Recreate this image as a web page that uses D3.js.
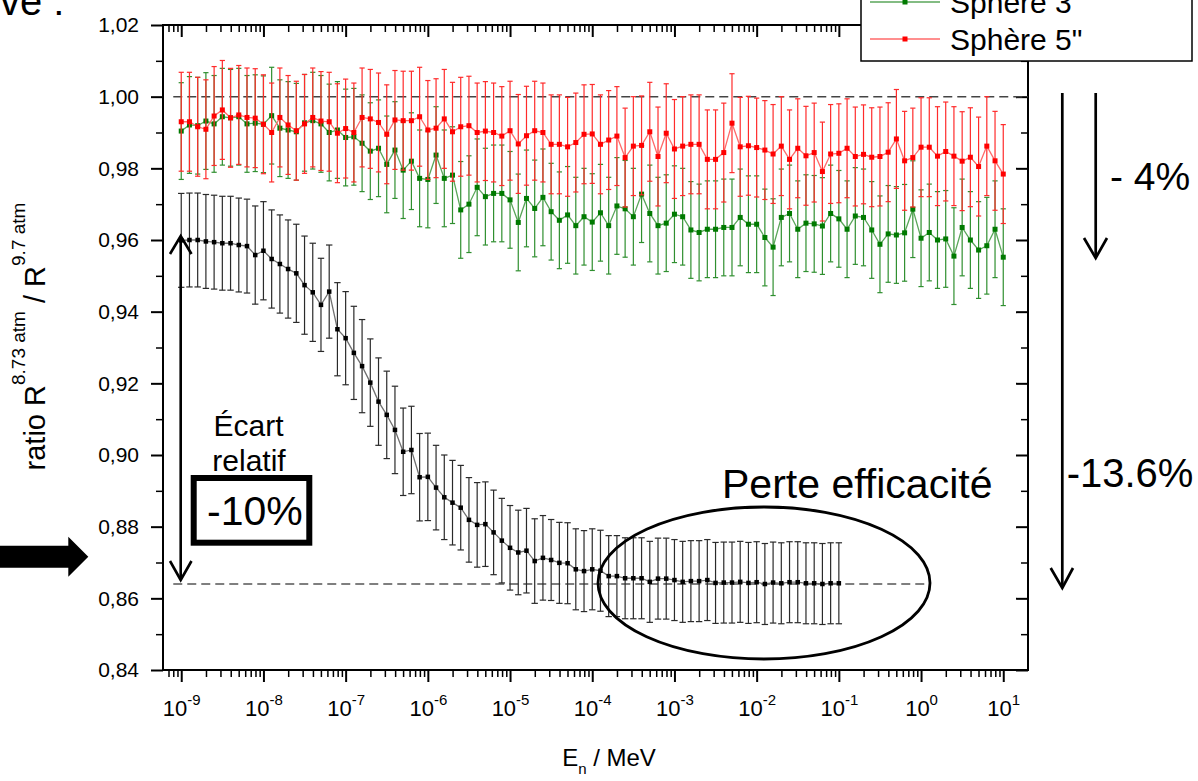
<!DOCTYPE html>
<html>
<head>
<meta charset="utf-8">
<script src="https://cdn.jsdelivr.net/npm/d3@7"></script>
<style>
  body { margin: 0; background: #fff; }
  svg { font-family: "Liberation Sans", Arial, sans-serif; }
</style>
</head>
<body>
<div id="chart"></div>
<script>
// energy grid: 10 points per decade starting at 1e-9 MeV
const blackEnergy = d3.range(81).map(i => Math.pow(10, -9 + i / 10));   // up to 1e-1
const sphereEnergy = d3.range(101).map(i => Math.pow(10, -9 + i / 10));  // up to 1e1

// ratio values
const blackRatio = [
  0.9599, 0.9600, 0.9600, 0.9596, 0.9594, 0.9591, 0.9591, 0.9586, 0.9583, 0.9558,
  0.9570, 0.9547, 0.9533, 0.9519, 0.9507, 0.9474, 0.9454, 0.9419, 0.9456, 0.9351,
  0.9326, 0.9285, 0.9248, 0.9202, 0.9149, 0.9112, 0.9070, 0.9009, 0.9014, 0.8938,
  0.8939, 0.8909, 0.8882, 0.8867, 0.8853, 0.8819, 0.8805, 0.8807, 0.8784, 0.8761,
  0.8741, 0.8728, 0.8733, 0.8704, 0.8713, 0.8707, 0.8699, 0.8698, 0.8681, 0.8676,
  0.8681, 0.8677, 0.8662, 0.8662, 0.8656, 0.8656, 0.8656, 0.8646, 0.8655, 0.8655,
  0.8651, 0.8646, 0.8648, 0.8648, 0.8651, 0.8643, 0.8644, 0.8644, 0.8646, 0.8643,
  0.8645, 0.8640, 0.8644, 0.8642, 0.8645, 0.8645, 0.8642, 0.8642, 0.8640, 0.8642,
  0.8642
];
const blackErr = [
  0.0131, 0.0131, 0.0131, 0.0131, 0.0131, 0.0131, 0.0131, 0.0131, 0.0131, 0.0137,
  0.0137, 0.0137, 0.0137, 0.0137, 0.0137, 0.0137, 0.0137, 0.0130, 0.0130, 0.0130,
  0.0130, 0.0130, 0.0130, 0.0122, 0.0122, 0.0122, 0.0122, 0.0122, 0.0122, 0.0122,
  0.0122, 0.0118, 0.0118, 0.0118, 0.0118, 0.0118, 0.0118, 0.0118, 0.0118, 0.0118,
  0.0118, 0.0118, 0.0118, 0.0118, 0.0118, 0.0113, 0.0113, 0.0113, 0.0113, 0.0113,
  0.0113, 0.0113, 0.0113, 0.0113, 0.0113, 0.0113, 0.0113, 0.0113, 0.0113, 0.0113,
  0.0113, 0.0113, 0.0113, 0.0113, 0.0113, 0.0113, 0.0113, 0.0113, 0.0113, 0.0113,
  0.0113, 0.0113, 0.0113, 0.0113, 0.0113, 0.0113, 0.0113, 0.0113, 0.0113, 0.0113,
  0.0113
];
const greenRatio = [
  0.9904, 0.9921, 0.9919, 0.9932, 0.9924, 0.9944, 0.9941, 0.9944, 0.9924, 0.9926,
  0.9923, 0.9947, 0.9912, 0.9907, 0.9902, 0.9927, 0.9933, 0.9924, 0.9900, 0.9907,
  0.9886, 0.9888, 0.9870, 0.9848, 0.9856, 0.9811, 0.9851, 0.9795, 0.9820, 0.9772,
  0.9769, 0.9837, 0.9772, 0.9781, 0.9684, 0.9700, 0.9747, 0.9721, 0.9730, 0.9730,
  0.9712, 0.9649, 0.9716, 0.9688, 0.9719, 0.9679, 0.9655, 0.9670, 0.9640, 0.9665,
  0.9650, 0.9676, 0.9640, 0.9695, 0.9687, 0.9665, 0.9728, 0.9674, 0.9640, 0.9647,
  0.9672, 0.9665, 0.9628, 0.9621, 0.9630, 0.9630, 0.9635, 0.9635, 0.9663, 0.9644,
  0.9644, 0.9607, 0.9580, 0.9663, 0.9674, 0.9630, 0.9647, 0.9645, 0.9639, 0.9674,
  0.9659, 0.9630, 0.9667, 0.9663, 0.9628, 0.9588, 0.9617, 0.9614, 0.9620, 0.9686,
  0.9605, 0.9621, 0.9600, 0.9603, 0.9555, 0.9635, 0.9600, 0.9572, 0.9584, 0.9630,
  0.9552
];
const greenErr = 0.0135;
const redRatio = [
  0.9930, 0.9930, 0.9916, 0.9909, 0.9946, 0.9963, 0.9941, 0.9949, 0.9942, 0.9940,
  0.9923, 0.9900, 0.9942, 0.9921, 0.9905, 0.9924, 0.9942, 0.9932, 0.9930, 0.9898,
  0.9911, 0.9900, 0.9942, 0.9938, 0.9928, 0.9895, 0.9935, 0.9933, 0.9933, 0.9944,
  0.9907, 0.9912, 0.9938, 0.9902, 0.9916, 0.9919, 0.9900, 0.9904, 0.9900, 0.9890,
  0.9905, 0.9868, 0.9891, 0.9905, 0.9900, 0.9867, 0.9867, 0.9860, 0.9872, 0.9895,
  0.9896, 0.9867, 0.9879, 0.9890, 0.9830, 0.9862, 0.9864, 0.9902, 0.9833, 0.9898,
  0.9854, 0.9862, 0.9867, 0.9867, 0.9825, 0.9825, 0.9844, 0.9926, 0.9860, 0.9863,
  0.9858, 0.9851, 0.9840, 0.9862, 0.9825, 0.9856, 0.9835, 0.9844, 0.9791, 0.9840,
  0.9842, 0.9856, 0.9833, 0.9839, 0.9831, 0.9833, 0.9845, 0.9882, 0.9821, 0.9830,
  0.9859, 0.9859, 0.9834, 0.9847, 0.9834, 0.9820, 0.9831, 0.9805, 0.9862, 0.9821,
  0.9784
];
const redErr = 0.0138;

const xMajor = [1e-9, 1e-8, 1e-7, 1e-6, 1e-5, 1e-4, 1e-3, 1e-2, 1e-1, 1e0, 1e1];
const yMajor = [0.84, 0.86, 0.88, 0.90, 0.92, 0.94, 0.96, 0.98, 1.00, 1.02];
const yMinor = [0.85, 0.87, 0.89, 0.91, 0.93, 0.95, 0.97, 0.99, 1.01];

const margin = { top: 25, right: 170, bottom: 111, left: 163 };
const width = 1198 - margin.left - margin.right;
const height = 781 - margin.top - margin.bottom;

const svg = d3.select('#chart')
  .append('svg')
  .attr('width', 1198)
  .attr('height', 781);

const g = svg.append('g')
  .attr('transform', `translate(${margin.left},${margin.top})`);

// scales
const x = d3.scaleLog().domain([6e-10, 20]).range([0, width]);
const y = d3.scaleLinear().domain([0.84, 1.02]).range([height, 0]);

// minor log ticks
const xMinor = [];
for (let e = -10; e <= 1; e++) {
  for (let m = 2; m <= 9; m++) {
    const v = m * Math.pow(10, e);
    if (v > 6.5e-10 && v < 19) xMinor.push(v);
  }
}

// axes
function styleAxis(sel, w) {
  sel.select('.domain').remove();
  sel.selectAll('line').attr('stroke', '#000').attr('stroke-width', w);
}
const fmtY = d => d3.format('.2f')(d).replace('.', ',');

g.append('g').attr('transform', `translate(0,${height})`)
  .call(d3.axisBottom(x).tickValues(xMinor).tickSize(7).tickFormat(''))
  .call(s => styleAxis(s, 1.5));
const xAx = g.append('g').attr('transform', `translate(0,${height})`)
  .call(d3.axisBottom(x).tickValues(xMajor).tickSize(12).tickPadding(22).tickFormat(''))
  .call(s => styleAxis(s, 2));
xAx.selectAll('.tick text').each(function (d) {
  const t = d3.select(this)
    .attr('fill', '#000')
    .attr('font-size', 22)
    .attr('font-family', '"Liberation Sans", Arial, sans-serif')
    .attr('dy', 0)
    .attr('y', 46);
  t.append('tspan').text('10');
  t.append('tspan').attr('font-size', 15).attr('dy', -11).text(Math.round(Math.log10(d)));
});

g.append('g').call(d3.axisTop(x).tickValues(xMinor).tickSize(-7).tickFormat(''))
  .call(s => styleAxis(s, 1.5));
g.append('g').call(d3.axisTop(x).tickValues(xMajor).tickSize(-12).tickFormat(''))
  .call(s => styleAxis(s, 2));

g.append('g').call(d3.axisLeft(y).tickValues(yMinor).tickSize(7).tickFormat(''))
  .call(s => styleAxis(s, 1.5));
g.append('g').call(d3.axisLeft(y).tickValues(yMajor).tickSize(12).tickPadding(12).tickFormat(fmtY))
  .call(s => styleAxis(s, 2))
  .call(s => s.selectAll('text')
    .attr('fill', '#000')
    .attr('font-size', 21)
    .attr('font-family', '"Liberation Sans", Arial, sans-serif'));

g.append('g').attr('transform', `translate(${width},0)`)
  .call(d3.axisRight(y).tickValues(yMinor).tickSize(-7).tickFormat(''))
  .call(s => styleAxis(s, 1.5));
g.append('g').attr('transform', `translate(${width},0)`)
  .call(d3.axisRight(y).tickValues(yMajor).tickSize(-12).tickFormat(''))
  .call(s => styleAxis(s, 2));

// frame
g.append('rect')
  .attr('width', width).attr('height', height)
  .attr('fill', 'none').attr('stroke', '#000').attr('stroke-width', 2);

// reference dashed lines
g.append('line')
  .attr('x1', x(8e-10)).attr('x2', width)
  .attr('y1', y(1.0)).attr('y2', y(1.0))
  .attr('stroke', '#444').attr('stroke-width', 1.5).attr('stroke-dasharray', '9,5');
g.append('line')
  .attr('x1', x(8e-10)).attr('x2', x(1.25))
  .attr('y1', y(0.864)).attr('y2', y(0.864))
  .attr('stroke', '#555').attr('stroke-width', 1.5).attr('stroke-dasharray', '9,5');

// series
function drawSeries(energy, ratio, err, st) {
  const pts = ratio.map((v, i) => ({ e: energy[i], v: v, err: Array.isArray(err) ? err[i] : err }));
  const s = g.append('g');
  s.append('path').datum(pts)
    .attr('d', d3.line().x(d => x(d.e)).y(d => y(d.v)))
    .attr('fill', 'none').attr('stroke', st.line).attr('stroke-width', 1.3);
  const bars = s.append('g').attr('stroke', st.bar).attr('stroke-width', st.barW);
  bars.selectAll('.eb').data(pts).join('line')
    .attr('x1', d => x(d.e)).attr('x2', d => x(d.e))
    .attr('y1', d => y(d.v + d.err)).attr('y2', d => y(d.v - d.err));
  bars.selectAll('.capT').data(pts).join('line')
    .attr('x1', d => x(d.e) - st.cap).attr('x2', d => x(d.e) + st.cap)
    .attr('y1', d => y(d.v + d.err)).attr('y2', d => y(d.v + d.err));
  bars.selectAll('.capB').data(pts).join('line')
    .attr('x1', d => x(d.e) - st.cap).attr('x2', d => x(d.e) + st.cap)
    .attr('y1', d => y(d.v - d.err)).attr('y2', d => y(d.v - d.err));
  s.selectAll('rect').data(pts).join('rect')
    .attr('x', d => x(d.e) - st.sq / 2).attr('y', d => y(d.v) - st.sq / 2)
    .attr('width', st.sq).attr('height', st.sq)
    .attr('fill', st.mark);
}

drawSeries(sphereEnergy, greenRatio, greenErr,
  { line: '#5aa65a', bar: '#2f8f2f', barW: 1.2, cap: 2.6, sq: 5, mark: '#007a00' });
drawSeries(sphereEnergy, redRatio, redErr,
  { line: '#ff6a6a', bar: '#ff2b2b', barW: 1.2, cap: 2.6, sq: 5, mark: '#ff0000' });
drawSeries(blackEnergy, blackRatio, blackErr,
  { line: '#707070', bar: '#2a2a2a', barW: 1.2, cap: 3.2, sq: 4.5, mark: '#000' });

// annotations
const ann = svg.append('g').attr('fill', 'none').attr('stroke', '#000');

// ellipse "Perte efficacité"
ann.append('ellipse')
  .attr('cx', 764).attr('cy', 583).attr('rx', 166).attr('ry', 76)
  .attr('stroke-width', 2.8);

// double arrow on left
ann.append('line').attr('x1', 180.7).attr('x2', 180.7).attr('y1', 237).attr('y2', 579).attr('stroke-width', 2.6);
ann.append('polyline').attr('points', '170,254 180.7,236 191.5,254').attr('stroke-width', 2.6);
ann.append('polyline').attr('points', '170,561 180.7,580 191.5,561').attr('stroke-width', 2.6);

// right arrows
ann.append('line').attr('x1', 1062.3).attr('x2', 1062.3).attr('y1', 93).attr('y2', 587).attr('stroke-width', 2.7);
ann.append('polyline').attr('points', '1050.7,568 1062.3,588 1073,568').attr('stroke-width', 2.7);
ann.append('line').attr('x1', 1095.7).attr('x2', 1095.7).attr('y1', 93).attr('y2', 257).attr('stroke-width', 2.7);
ann.append('polyline').attr('points', '1084,238 1095.7,258 1107,238').attr('stroke-width', 2.7);

// box around -10%
ann.append('rect')
  .attr('x', 193.7).attr('y', 478).attr('width', 115.6).attr('height', 64.7)
  .attr('fill', '#fff').attr('stroke-width', 6);

// big filled arrow at left edge
svg.append('polygon')
  .attr('points', '0,545.7 68.3,545.7 68.3,536.7 88.3,556.7 68.3,576.7 68.3,567.7 0,567.7')
  .attr('fill', '#000');

const txt = svg.append('g').attr('fill', '#000');
txt.append('text').attr('x', 0).attr('y', 15).attr('font-size', 40).text('ve :');
txt.append('text').attr('x', 722).attr('y', 498).attr('font-size', 41).text('Perte efficacité');
txt.append('text').attr('x', 207).attr('y', 525).attr('font-size', 41).text('-10%');
txt.append('text').attr('x', 248.5).attr('y', 436).attr('font-size', 30).attr('text-anchor', 'middle').text('Écart');
txt.append('text').attr('x', 249).attr('y', 471).attr('font-size', 30).attr('text-anchor', 'middle').text('relatif');
txt.append('text').attr('x', 1110).attr('y', 190).attr('font-size', 39).text('- 4%');
txt.append('text').attr('x', 1066.7).attr('y', 487).attr('font-size', 40).text('-13.6%');

// axis titles
const yTitle = txt.append('text')
  .attr('transform', 'translate(45,336.5) rotate(-90)')
  .attr('text-anchor', 'middle')
  .attr('font-size', 29);
yTitle.append('tspan').text('ratio R');
yTitle.append('tspan').attr('font-size', 19).attr('dy', -20).text('8.73 atm');
yTitle.append('tspan').attr('dy', 20).text(' / R');
yTitle.append('tspan').attr('font-size', 19).attr('dy', -20).text('9.7 atm');

const xTitle = txt.append('text')
  .attr('x', 609).attr('y', 766)
  .attr('text-anchor', 'middle')
  .attr('font-size', 24);
xTitle.append('tspan').text('E');
xTitle.append('tspan').attr('font-size', 15).attr('dy', 8).text('n');
xTitle.append('tspan').attr('dy', -8).text(' / MeV');

// legend (top part is cut by the picture edge)
const leg = svg.append('g');
leg.append('rect')
  .attr('x', 861).attr('y', -80).attr('width', 331).attr('height', 141)
  .attr('fill', '#fff').attr('stroke', '#000').attr('stroke-width', 1.5);
const legItems = [
  { label: 'Sphère 3"', line: '#5aa65a', mark: '#007a00', ly: 2 },
  { label: 'Sphère 5"', line: '#ff6a6a', mark: '#ff0000', ly: 39 }
];
legItems.forEach(it => {
  leg.append('line').attr('x1', 870).attr('x2', 940).attr('y1', it.ly).attr('y2', it.ly)
    .attr('stroke', it.line).attr('stroke-width', 1.5);
  leg.append('rect').attr('x', 902.5).attr('y', it.ly - 2.5).attr('width', 5).attr('height', 5)
    .attr('fill', it.mark);
  leg.append('text').attr('x', 950).attr('y', it.ly + 10.5).attr('font-size', 30)
    .attr('fill', '#000').text(it.label);
});
</script>
</body>
</html>
